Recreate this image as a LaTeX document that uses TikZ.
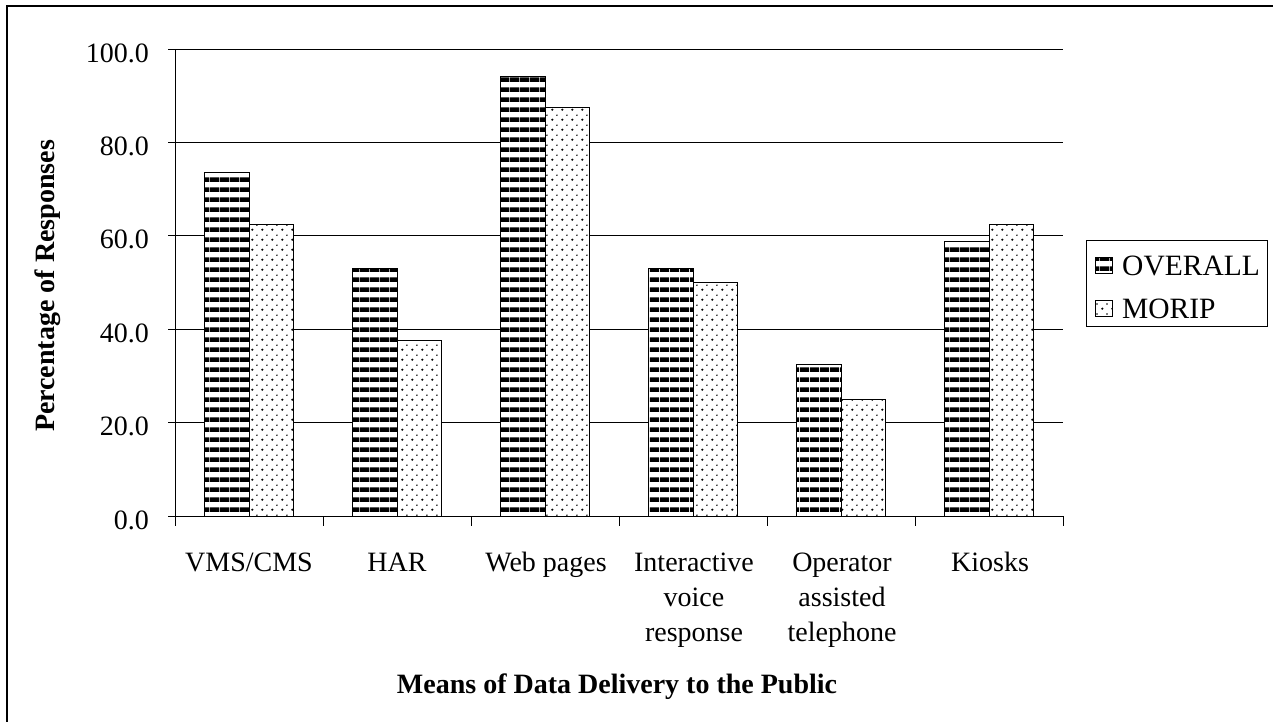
\documentclass[tikz,border=0pt]{standalone}
\usepackage{fontspec}
\setmainfont{Liberation Serif}
\usetikzlibrary{patterns}
\pgfdeclarepatternformonly{hstripes}{\pgfpointorigin}{\pgfpoint{10pt}{10pt}}{\pgfpoint{10pt}{10pt}}{%
  \pgfpathrectangle{\pgfpointorigin}{\pgfpoint{10pt}{5pt}}\pgfusepath{fill}}
\pgfdeclarepatternformonly{sdots}{\pgfpointorigin}{\pgfpoint{10pt}{10pt}}{\pgfpoint{10pt}{10pt}}{%
  \pgfpathcircle{\pgfpoint{2.5pt}{2.5pt}}{1.3pt}%
  \pgfpathcircle{\pgfpoint{7.5pt}{7.5pt}}{0.9pt}\pgfusepath{fill}}
\tikzset{
  txt/.style={font=\fontsize{28}{35}\selectfont, inner sep=0pt},
  legtxt/.style={font=\fontsize{29.5}{35}\selectfont, inner sep=0pt},
  ttl/.style={font=\fontsize{28}{35}\selectfont\bfseries, inner sep=0pt},
  grid line/.style={line width=1pt, black},
  axis line/.style={line width=1pt, black},
  overallbar/.style={draw=black, line width=1pt, fill=white, postaction={pattern=hstripes}},
  moripbar/.style={draw=black, line width=1pt, fill=white, postaction={pattern=sdots}},
}
\begin{document}
\begin{tikzpicture}[x=1pt,y=-1pt]
\useasboundingbox (0,0) rectangle (1273,721);
\fill[white] (0,0) rectangle (1273,721);
% outer frame
\draw[line width=1.2pt] (7,730) -- (7,6) -- (1285,6);
% gridlines
\foreach \k in {1,...,5}{
  \draw[grid line] (175,{516-93.4*\k}) -- (1063,{516-93.4*\k});
}
% tick labels
\foreach \k/\lab in {0/0.0,1/20.0,2/40.0,3/60.0,4/80.0,5/100.0}{
  \draw[axis line] (168,{516-93.4*\k}) -- (175,{516-93.4*\k});
  \node[txt, anchor=base east] (yt\k) at (149,{516-93.4*\k+13}) {\lab};
}
% bars
\foreach \i/\a/\b in {0/73.5/62.5, 1/52.9/37.5, 2/94.1/87.5, 3/52.9/50.0, 4/32.4/25.0, 5/58.8/62.5}{
  \pgfmathsetmacro\xa{175+148*\i+29.6}
  \pgfmathsetmacro\xb{\xa+44.4}
  \pgfmathsetmacro\xc{\xb+44.4}
  \draw[overallbar] (\xa,516) rectangle (\xb,{516-4.67*\a});
  \draw[moripbar] (\xb,516) rectangle (\xc,{516-4.67*\b});
}
% axes
\draw[axis line] (175,49) -- (175,516) -- (1063,516);
\foreach \i in {0,...,6}{
  \draw[axis line] ({175+148*\i},516) -- ({175+148*\i},526);
}
% category labels
\node[txt, anchor=north, align=center] (c1) at (249,547) {\strut VMS/CMS};
\node[txt, anchor=north, align=center] (c2) at (397,547) {\strut HAR};
\node[txt, anchor=north, align=center] (c3) at (546,547) {\strut Web pages};
\node[txt, anchor=north, align=center] (c4) at (694,547) {\strut Interactive\\voice\\response};
\node[txt, anchor=north, align=center] (c5) at (842,547) {\strut Operator\\assisted\\telephone};
\node[txt, anchor=north, align=center] (c6) at (990,547) {\strut Kiosks};
% axis titles
\node[ttl, anchor=base] (xt) at (617,693) {Means of Data Delivery to the Public};
\node[ttl, anchor=base, rotate=90] (ytl) at (54,286) {Percentage of Responses};
% legend
\draw[line width=1pt] (1086,240) rectangle (1267,326);
\draw[overallbar] (1095,257) rectangle (1112,273);
\draw[moripbar] (1095,300) rectangle (1112,316);
\node[legtxt, anchor=base west] (l1) at (1122,275) {OVERALL};
\node[legtxt, anchor=base west] (l2) at (1122,318) {MORIP};
\end{tikzpicture}
\end{document}
